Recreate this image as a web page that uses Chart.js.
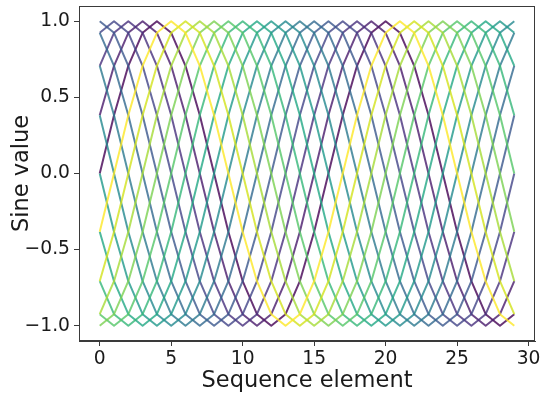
<!DOCTYPE html>
<html>
<head>
<meta charset="utf-8">
<script src="https://cdn.jsdelivr.net/npm/chart.js@4/dist/chart.umd.min.js"></script>
<style>
  html, body { margin: 0; padding: 0; background: #ffffff; }
  #wrap { width: 542px; height: 396px; }
</style>
</head>
<body>
<div id="wrap"><canvas id="c" width="542" height="396"></canvas></div>
<script>
// Sequence positions along the x axis
const positions = [0,1,2,3,4,5,6,7,8,9,10,11,12,13,14,15,16,17,18,19,20,21,22,23,24,25,26,27,28,29];

// One sine sequence per shift, shift 0 .. 15
const seq00 = [0, 0.383, 0.707, 0.924, 1, 0.924, 0.707, 0.383, 0, -0.383, -0.707, -0.924, -1, -0.924, -0.707, -0.383, 0, 0.383, 0.707, 0.924, 1, 0.924, 0.707, 0.383, 0, -0.383, -0.707, -0.924, -1, -0.924];
const seq01 = [0.383, 0.707, 0.924, 1, 0.924, 0.707, 0.383, 0, -0.383, -0.707, -0.924, -1, -0.924, -0.707, -0.383, 0, 0.383, 0.707, 0.924, 1, 0.924, 0.707, 0.383, 0, -0.383, -0.707, -0.924, -1, -0.924, -0.707];
const seq02 = [0.707, 0.924, 1, 0.924, 0.707, 0.383, 0, -0.383, -0.707, -0.924, -1, -0.924, -0.707, -0.383, 0, 0.383, 0.707, 0.924, 1, 0.924, 0.707, 0.383, 0, -0.383, -0.707, -0.924, -1, -0.924, -0.707, -0.383];
const seq03 = [0.924, 1, 0.924, 0.707, 0.383, 0, -0.383, -0.707, -0.924, -1, -0.924, -0.707, -0.383, 0, 0.383, 0.707, 0.924, 1, 0.924, 0.707, 0.383, 0, -0.383, -0.707, -0.924, -1, -0.924, -0.707, -0.383, 0];
const seq04 = [1, 0.924, 0.707, 0.383, 0, -0.383, -0.707, -0.924, -1, -0.924, -0.707, -0.383, 0, 0.383, 0.707, 0.924, 1, 0.924, 0.707, 0.383, 0, -0.383, -0.707, -0.924, -1, -0.924, -0.707, -0.383, 0, 0.383];
const seq05 = [0.924, 0.707, 0.383, 0, -0.383, -0.707, -0.924, -1, -0.924, -0.707, -0.383, 0, 0.383, 0.707, 0.924, 1, 0.924, 0.707, 0.383, 0, -0.383, -0.707, -0.924, -1, -0.924, -0.707, -0.383, 0, 0.383, 0.707];
const seq06 = [0.707, 0.383, 0, -0.383, -0.707, -0.924, -1, -0.924, -0.707, -0.383, 0, 0.383, 0.707, 0.924, 1, 0.924, 0.707, 0.383, 0, -0.383, -0.707, -0.924, -1, -0.924, -0.707, -0.383, 0, 0.383, 0.707, 0.924];
const seq07 = [0.383, 0, -0.383, -0.707, -0.924, -1, -0.924, -0.707, -0.383, 0, 0.383, 0.707, 0.924, 1, 0.924, 0.707, 0.383, 0, -0.383, -0.707, -0.924, -1, -0.924, -0.707, -0.383, 0, 0.383, 0.707, 0.924, 1];
const seq08 = [0, -0.383, -0.707, -0.924, -1, -0.924, -0.707, -0.383, 0, 0.383, 0.707, 0.924, 1, 0.924, 0.707, 0.383, 0, -0.383, -0.707, -0.924, -1, -0.924, -0.707, -0.383, 0, 0.383, 0.707, 0.924, 1, 0.924];
const seq09 = [-0.383, -0.707, -0.924, -1, -0.924, -0.707, -0.383, 0, 0.383, 0.707, 0.924, 1, 0.924, 0.707, 0.383, 0, -0.383, -0.707, -0.924, -1, -0.924, -0.707, -0.383, 0, 0.383, 0.707, 0.924, 1, 0.924, 0.707];
const seq10 = [-0.707, -0.924, -1, -0.924, -0.707, -0.383, 0, 0.383, 0.707, 0.924, 1, 0.924, 0.707, 0.383, 0, -0.383, -0.707, -0.924, -1, -0.924, -0.707, -0.383, 0, 0.383, 0.707, 0.924, 1, 0.924, 0.707, 0.383];
const seq11 = [-0.924, -1, -0.924, -0.707, -0.383, 0, 0.383, 0.707, 0.924, 1, 0.924, 0.707, 0.383, 0, -0.383, -0.707, -0.924, -1, -0.924, -0.707, -0.383, 0, 0.383, 0.707, 0.924, 1, 0.924, 0.707, 0.383, 0];
const seq12 = [-1, -0.924, -0.707, -0.383, 0, 0.383, 0.707, 0.924, 1, 0.924, 0.707, 0.383, 0, -0.383, -0.707, -0.924, -1, -0.924, -0.707, -0.383, 0, 0.383, 0.707, 0.924, 1, 0.924, 0.707, 0.383, 0, -0.383];
const seq13 = [-0.924, -0.707, -0.383, 0, 0.383, 0.707, 0.924, 1, 0.924, 0.707, 0.383, 0, -0.383, -0.707, -0.924, -1, -0.924, -0.707, -0.383, 0, 0.383, 0.707, 0.924, 1, 0.924, 0.707, 0.383, 0, -0.383, -0.707];
const seq14 = [-0.707, -0.383, 0, 0.383, 0.707, 0.924, 1, 0.924, 0.707, 0.383, 0, -0.383, -0.707, -0.924, -1, -0.924, -0.707, -0.383, 0, 0.383, 0.707, 0.924, 1, 0.924, 0.707, 0.383, 0, -0.383, -0.707, -0.924];
const seq15 = [-0.383, 0, 0.383, 0.707, 0.924, 1, 0.924, 0.707, 0.383, 0, -0.383, -0.707, -0.924, -1, -0.924, -0.707, -0.383, 0, 0.383, 0.707, 0.924, 1, 0.924, 0.707, 0.383, 0, -0.383, -0.707, -0.924, -1];

const sequences = [seq00, seq01, seq02, seq03, seq04, seq05, seq06, seq07,
                   seq08, seq09, seq10, seq11, seq12, seq13, seq14, seq15];

// Viridis, sampled at 16 even steps
const viridis16 = ['#440154', '#481a6c', '#472f7d', '#414487', '#39568c', '#31688e', '#2a788e', '#23888e',
                   '#1f988b', '#22a884', '#35b779', '#54c568', '#7ad151', '#a5db36', '#d2e21b', '#fde725'];

// Axis ticks
const xTickValues = [0, 5, 10, 15, 20, 25, 30];
const yTickValues = [-1, -0.5, 0, 0.5, 1];
const yTickLabels = ['\u22121.0', '\u22120.5', '0.0', '0.5', '1.0'];

function hexAlpha(hex, a) {
  const r = parseInt(hex.slice(1, 3), 16), g = parseInt(hex.slice(3, 5), 16), b = parseInt(hex.slice(5, 7), 16);
  return `rgba(${r},${g},${b},${a})`;
}

const datasets = sequences.map((seq, k) => ({
  label: 'shift ' + k,
  data: seq.map((v, i) => ({ x: positions[i], y: v })),
  borderColor: hexAlpha(viridis16[k], 0.8),
  borderWidth: 2,
  borderJoinStyle: 'round',
  pointRadius: 0,
  tension: 0,
  fill: false,
  order: sequences.length - 1 - k   // later shifts drawn on top
}));

const axisColor = '#3a3a3a';
const textColor = '#1a1a1a';
const fontFamily = '"DejaVu Sans", sans-serif';

// Draws the closed frame around the plotting area
const frame = {
  id: 'frame',
  afterDraw(chart) {
    const { ctx, chartArea: a } = chart;
    ctx.save();
    ctx.strokeStyle = axisColor;
    ctx.lineWidth = 1;
    ctx.strokeRect(Math.round(a.left) + 0.5, Math.round(a.top) + 0.5,
                   Math.round(a.right - a.left) - 1, Math.round(a.bottom - a.top) - 1);
    ctx.restore();
  }
};

new Chart(document.getElementById('c'), {
  type: 'line',
  data: { datasets },
  options: {
    responsive: false,
    animation: false,
    layout: { padding: { top: 6, right: 7, left: 9, bottom: 0 } },
    plugins: { legend: { display: false }, tooltip: { enabled: false } },
    scales: {
      x: {
        type: 'linear',
        min: -1.45,
        max: 30.45,
        afterBuildTicks: s => { s.ticks = xTickValues.map(v => ({ value: v })); },
        afterFit: s => { s.height = 55; s.paddingLeft = 0; s.paddingRight = 0; },
        grid: { drawOnChartArea: false, drawTicks: true, tickLength: 5, color: axisColor },
        border: { display: true, color: axisColor },
        ticks: { color: textColor, font: { family: fontFamily, size: 18.7 }, padding: 2, maxRotation: 0,
                 callback: v => String(v) },
        title: { display: true, text: 'Sequence element', color: textColor,
                 font: { family: fontFamily, size: 22.5 }, padding: { top: 0, bottom: 1 } }
      },
      y: {
        type: 'linear',
        min: -1.1,
        max: 1.1,
        afterBuildTicks: s => { s.ticks = yTickValues.map(v => ({ value: v })); },
        afterFit: s => { s.width = 70; s.paddingTop = 0; s.paddingBottom = 0; },
        grid: { drawOnChartArea: false, drawTicks: true, tickLength: 5, color: axisColor },
        border: { display: true, color: axisColor },
        ticks: { color: textColor, font: { family: fontFamily, size: 18.7 }, padding: 4,
                 callback: v => yTickLabels[yTickValues.indexOf(v)] },
        title: { display: true, text: 'Sine value', color: textColor,
                 font: { family: fontFamily, size: 22.5 }, padding: { top: 0, bottom: 2 } }
      }
    }
  },
  plugins: [frame]
});
</script>
</body>
</html>
